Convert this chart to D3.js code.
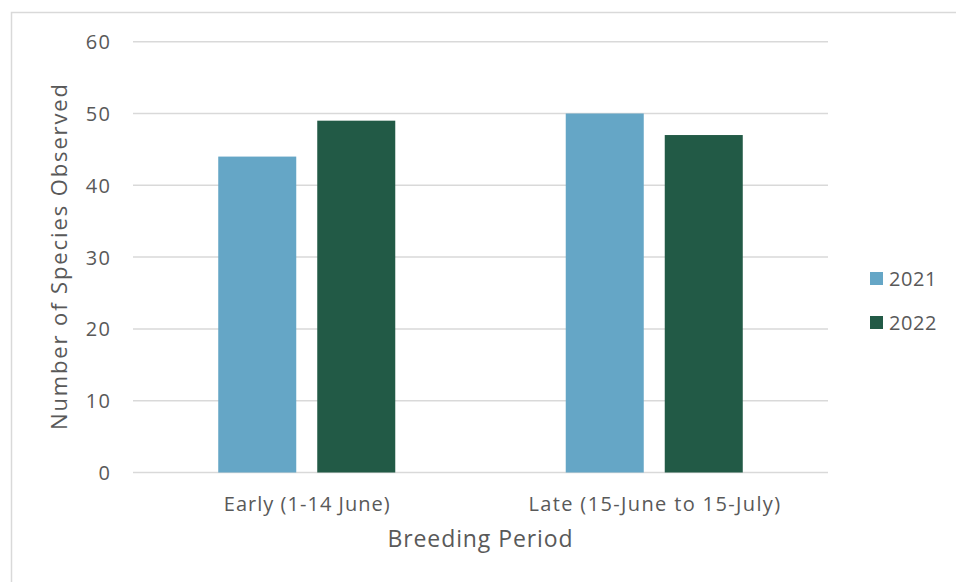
<!DOCTYPE html>
<html>
<head>
<meta charset="utf-8">
<script src="https://cdn.jsdelivr.net/npm/d3@7"></script>
<style>
  html, body { margin: 0; padding: 0; background: #fff; }
  svg { display: block; }
  text { font-family: "Open Sans", Lato, sans-serif; fill: #595959; }
</style>
</head>
<body>
<script>
// Species counts per breeding period, by survey year
const periods = ["Early (1-14 June)", "Late (15-June to 15-July)"];
const years = ["2021", "2022"];
const values2021 = [44, 50];
const values2022 = [49, 47];
const yTicks = [0, 10, 20, 30, 40, 50, 60];
const colors = ["#65a6c6", "#225a46"];

const W = 956, H = 582;
const plot = { left: 133, right: 828, top: 41.7, bottom: 472.5 };
const FONT = "'Open Sans', Lato, sans-serif";

const svg = d3.select("body").append("svg").attr("width", W).attr("height", H);

// stretch a label's tracking so it spans the given width
function track(sel, width) {
  sel.each(function () {
    const n = this.textContent.length;
    const natural = this.getComputedTextLength();
    const ls = (width - natural) / n;
    d3.select(this).attr("letter-spacing", ls);
    if (this.getAttribute("text-anchor") === "middle" || d3.select(this).style("text-anchor") === "middle") {
      d3.select(this).attr("dx", ls / 2);
    }
  });
}

// chart frame
svg.append("rect")
  .attr("x", 11.5).attr("y", 12.5)
  .attr("width", W + 20).attr("height", H + 20)
  .attr("fill", "none").attr("stroke", "#d9d9d9").attr("stroke-width", 1.5);

const x0 = d3.scaleBand().domain(periods).range([plot.left, plot.right]);
const bw = x0.bandwidth();
const x1 = d3.scaleBand().domain(years)
  .range([bw * 0.2453, bw * 0.7547]).paddingInner(0.2121).paddingOuter(0);
const y = d3.scaleLinear().domain([0, 60]).range([plot.bottom, plot.top]);

// gridlines
svg.append("g").selectAll("line").data(yTicks).join("line")
  .attr("x1", plot.left).attr("x2", plot.right)
  .attr("y1", d => y(d)).attr("y2", d => y(d))
  .attr("stroke", "#d9d9d9").attr("stroke-width", 1.5);

// y tick labels
const yAxis = d3.axisLeft(y).tickValues(yTicks).tickSize(0).tickPadding(0);
const gy = svg.append("g").attr("transform", `translate(110,0)`).call(yAxis);
gy.select(".domain").remove();
gy.selectAll("text").attr("font-size", 20).attr("fill", "#595959").attr("dy", "0.35em")
  .style("font-family", FONT).attr("letter-spacing", 1.5).attr("dx", 1.5);

// bars
const rows = periods.map((p, i) => ({ period: p, vals: [values2021[i], values2022[i]] }));
const groups = svg.append("g").selectAll("g").data(rows).join("g")
  .attr("transform", d => `translate(${x0(d.period)},0)`);
groups.selectAll("rect").data(d => d.vals.map((v, j) => ({ year: years[j], v, j }))).join("rect")
  .attr("x", d => x1(d.year))
  .attr("width", x1.bandwidth())
  .attr("y", d => y(d.v))
  .attr("height", d => y(0) - y(d.v))
  .attr("fill", d => colors[d.j]);

// category labels
const xAxis = d3.axisBottom(x0).tickSize(0).tickPadding(0);
const gx = svg.append("g").attr("transform", `translate(0,511)`).call(xAxis);
gx.select(".domain").remove();
gx.selectAll("text").attr("font-size", 20).attr("fill", "#595959").attr("dy", 0)
  .style("font-family", FONT);
gx.selectAll(".tick text").each(function (d, i) {
  track(d3.select(this), [167, 253][i]);
});

// axis titles
svg.append("text")
  .attr("x", 480).attr("y", 547)
  .attr("text-anchor", "middle").attr("font-size", 23)
  .text("Breeding Period").call(track, 186);
svg.append("text")
  .attr("transform", `translate(67,257) rotate(-90)`)
  .attr("text-anchor", "middle").attr("font-size", 22)
  .text("Number of Species Observed").call(track, 348);

// legend
const legend = svg.append("g").selectAll("g").data(years).join("g")
  .attr("transform", (d, i) => `translate(870,${272 + i * 44})`);
legend.append("rect").attr("width", 13).attr("height", 13).attr("fill", (d, i) => colors[i]);
legend.append("text").attr("x", 19).attr("y", 14).attr("font-size", 20).text(d => d)
  .call(track, 48);
</script>
</body>
</html>
